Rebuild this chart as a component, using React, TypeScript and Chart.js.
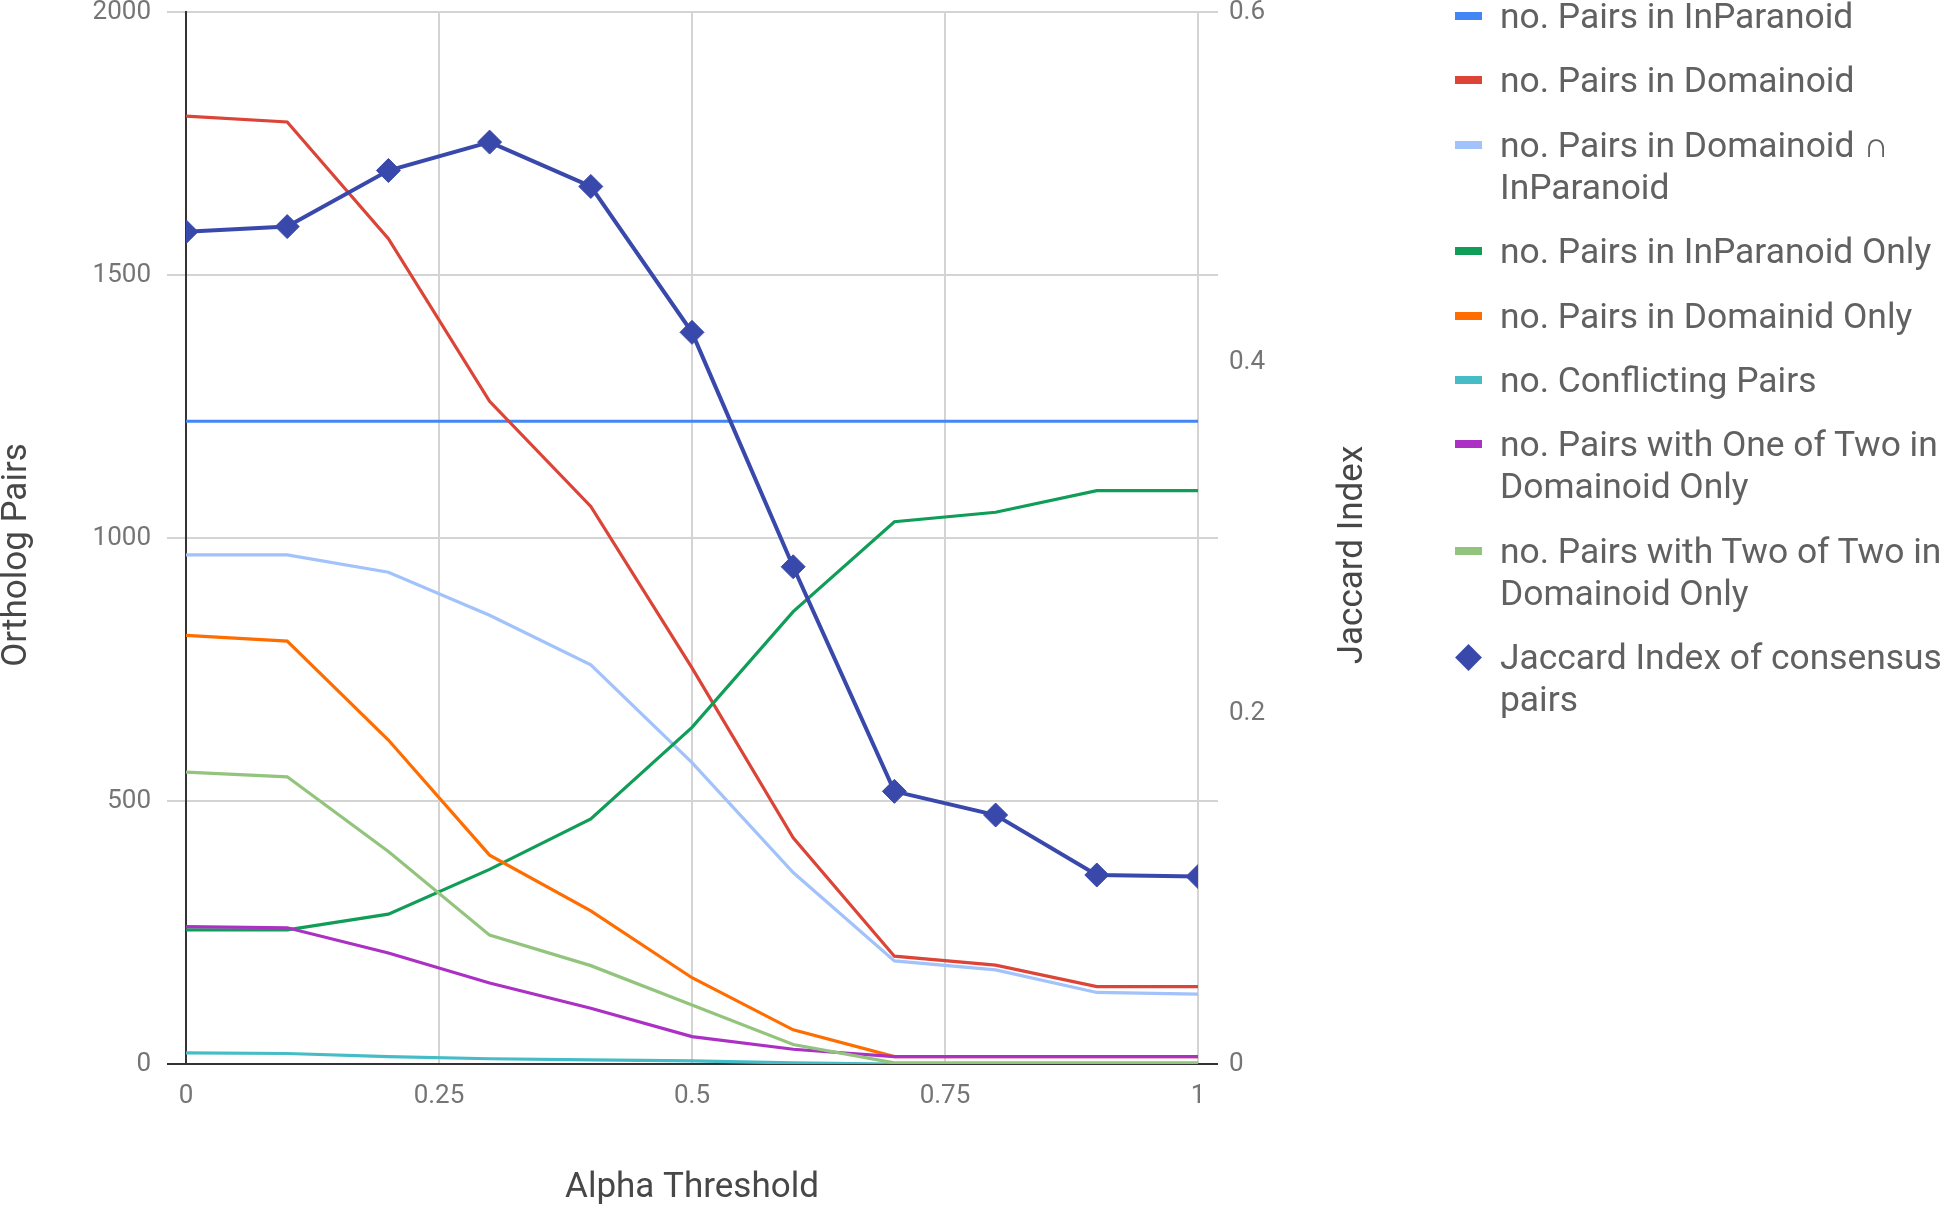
import React, { useEffect, useRef } from "react";
import { Chart, registerables } from "chart.js";

Chart.register(...registerables);

// ---------------- data ----------------
const alphaThresholds = [0, 0.1, 0.2, 0.3, 0.4, 0.5, 0.6, 0.7, 0.8, 0.9, 1.0];

const pairsInParanoid = [1222, 1222, 1222, 1222, 1222, 1222, 1222, 1222, 1222, 1222, 1222];
const pairsDomainoid = [1802, 1791, 1569, 1260, 1060, 753, 430, 205, 188, 147, 147];
const pairsIntersection = [968, 968, 935, 853, 759, 573, 364, 196, 179, 136, 133];
const pairsInParanoidOnly = [255, 255, 285, 370, 466, 640, 860, 1031, 1049, 1090, 1090];
const pairsDomainoidOnly = [815, 804, 616, 397, 291, 164, 65, 14, 14, 14, 14];
const conflictingPairs = [21, 20, 14, 10, 8, 6, 2, 0, 0, 0, 0];
const oneOfTwoPairs = [261, 259, 211, 154, 106, 52, 28, 14, 14, 14, 14];
const twoOfTwoPairs = [555, 546, 404, 245, 187, 112, 37, 2, 2, 2, 2];
const jaccardIndex = [0.4747, 0.4776, 0.5096, 0.5258, 0.5005, 0.4173, 0.2836, 0.1555, 0.142, 0.1078, 0.1069];

const legendLines: string[][] = [
  ["no. Pairs in InParanoid"],
  ["no. Pairs in Domainoid"],
  ["no. Pairs in Domainoid \u2229", "InParanoid"],
  ["no. Pairs in InParanoid Only"],
  ["no. Pairs in Domainid Only"],
  ["no. Conflicting Pairs"],
  ["no. Pairs with One of Two in", "Domainoid Only"],
  ["no. Pairs with Two of Two in", "Domainoid Only"],
  ["Jaccard Index of consensus", "pairs"],
];

const seriesColors = [
  "#4285F4",
  "#DB4437",
  "#A1C2FA",
  "#0F9D58",
  "#FF6D00",
  "#46BDC6",
  "#AB30C4",
  "#93C47D",
  "#3949AB",
];

const leftTicks = [0, 500, 1000, 1500, 2000];
const rightTicks = [0, 0.2, 0.4, 0.6];
const xTicks = [0, 0.25, 0.5, 0.75, 1];

const xTitle = "Alpha Threshold";
const leftTitle = "Ortholog Pairs";
const rightTitle = "Jaccard Index";

// ---------------- styles ----------------
const W = 1946;
const H = 1206;
const FONT = "Roboto";
const GRID = "#d4d4d4";
const AXIS = "#333333";
const TICK_COLOR = "#757575";
const TITLE_COLOR = "#474747";
const LEGEND_COLOR = "#616161";

const seriesValues = [
  pairsInParanoid,
  pairsDomainoid,
  pairsIntersection,
  pairsInParanoidOnly,
  pairsDomainoidOnly,
  conflictingPairs,
  oneOfTwoPairs,
  twoOfTwoPairs,
  jaccardIndex,
];

const extrasPlugin = {
  id: "extras",
  beforeDatasetsDraw(chart: any) {
    const { ctx, chartArea, scales } = chart;
    const y = scales.y;
    ctx.save();
    y.ticks.forEach((t: any) => {
      const py = Math.round(y.getPixelForValue(t.value));
      ctx.strokeStyle = t.value === 0 ? AXIS : GRID;
      ctx.lineWidth = 2;
      ctx.beginPath();
      ctx.moveTo(chartArea.right, py);
      ctx.lineTo(chartArea.right + 20, py);
      ctx.stroke();
    });
    ctx.restore();
  },
  afterDraw(chart: any) {
    const { ctx, chartArea } = chart;
    const cy = (chartArea.top + chartArea.bottom) / 2 + 17;
    ctx.save();
    ctx.font = `35px ${FONT}`;
    ctx.fillStyle = TITLE_COLOR;
    ctx.textAlign = "center";
    ctx.textBaseline = "middle";
    const drawRot = (text: string, x: number, yy: number) => {
      ctx.save();
      ctx.translate(x, yy);
      ctx.rotate(-Math.PI / 2);
      ctx.fillText(text, 0, 0);
      ctx.restore();
    };
    drawRot(leftTitle, 17, cy);
    drawRot(rightTitle, chartArea.right + 155, cy);
    ctx.restore();
  },
};

export default function App() {
  const canvasRef = useRef<HTMLCanvasElement | null>(null);

  useEffect(() => {
    if (!canvasRef.current) return;
    const n = seriesValues.length;
    const datasets = seriesValues.map((vals, i) => {
      const isJ = i === n - 1;
      return {
        label: legendLines[i].join(" "),
        data: vals.map((v, k) => ({ x: alphaThresholds[k], y: v })),
        borderColor: seriesColors[i],
        backgroundColor: seriesColors[i],
        borderWidth: isJ ? 4 : 3.2,
        pointRadius: isJ ? 12 : 0,
        pointHoverRadius: isJ ? 12 : 0,
        pointStyle: isJ ? "rectRot" : "circle",
        pointBorderWidth: 1,
        tension: 0,
        fill: false,
        yAxisID: isJ ? "y1" : "y",
        order: n - i,
      };
    });

    const chart = new Chart(canvasRef.current, {
      type: "line",
      data: { datasets } as any,
      plugins: [extrasPlugin],
      options: {
        responsive: false,
        animation: false,
        devicePixelRatio: 1,
        layout: {
          autoPadding: false,
          padding: { top: 12, left: 0, right: W - 1198 - 100, bottom: 0 },
        },
        plugins: {
          legend: { display: false },
          tooltip: { enabled: false },
        },
        scales: {
          x: {
            type: "linear",
            min: 0,
            max: 1,
            afterBuildTicks: (scale: any) => {
              scale.ticks = xTicks.map((v) => ({ value: v }));
            },
            ticks: {
              callback: (v: any) => String(Math.round(Number(v) * 100) / 100),
              font: { family: FONT, size: 26 },
              color: TICK_COLOR,
              padding: 17,
              maxRotation: 0,
            },
            grid: {
              color: (c: any) => (c.tick && c.tick.value === 0 ? AXIS : GRID),
              lineWidth: 2,
              drawTicks: false,
            },
            border: { display: true, color: AXIS, width: 2 },
            title: {
              display: true,
              text: xTitle,
              font: { family: FONT, size: 35, lineHeight: 1 },
              color: TITLE_COLOR,
              padding: { top: 0, bottom: 0 },
            },
            afterFit: (scale: any) => {
              scale.height = H - 1064;
              scale.paddingLeft = 0;
              scale.paddingRight = 0;
            },
          } as any,
          y: {
            type: "linear",
            position: "left",
            min: 0,
            max: 2000,
            afterBuildTicks: (scale: any) => {
              scale.ticks = leftTicks.map((v) => ({ value: v }));
            },
            ticks: {
              callback: (v: any) => String(v),
              font: { family: FONT, size: 26 },
              color: TICK_COLOR,
              padding: 16,
            },
            grid: {
              color: (c: any) => (c.tick && c.tick.value === 0 ? AXIS : GRID),
              lineWidth: 2,
              drawTicks: true,
              tickLength: 19,
            },
            border: { display: true, color: AXIS, width: 2 },
            afterFit: (scale: any) => {
              scale.width = 186;
              scale.paddingTop = 0;
              scale.paddingBottom = 0;
            },
          } as any,
          y1: {
            type: "linear",
            position: "right",
            min: 0,
            max: 0.6,
            afterBuildTicks: (scale: any) => {
              scale.ticks = rightTicks.map((v) => ({ value: v }));
            },
            ticks: {
              callback: (v: any) => String(Math.round(Number(v) * 10) / 10),
              font: { family: FONT, size: 26 },
              color: TICK_COLOR,
              padding: 31,
            },
            grid: { display: false, drawTicks: false, drawOnChartArea: false },
            border: { display: false },
            afterFit: (scale: any) => {
              scale.width = 100;
              scale.paddingTop = 0;
              scale.paddingBottom = 0;
            },
          } as any,
        },
      } as any,
    });
    return () => chart.destroy();
  }, []);

  let top = -5;
  const items = legendLines.map((lines, i) => {
    const itemTop = top;
    top += lines.length * 42 + 22.4;
    const isJ = i === legendLines.length - 1;
    return (
      <div
        key={i}
        style={{ position: "absolute", left: 1455, top: itemTop, width: 491 }}
      >
        {isJ ? (
          <div
            style={{
              position: "absolute",
              left: 4,
              top: 21 - 9.5,
              width: 19,
              height: 19,
              background: seriesColors[i],
              transform: "rotate(45deg)",
            }}
          />
        ) : (
          <div
            style={{
              position: "absolute",
              left: 0,
              top: 17,
              width: 27,
              height: 8,
              background: seriesColors[i],
            }}
          />
        )}
        <div
          style={{
            position: "absolute",
            left: 45,
            top: 0,
            whiteSpace: "nowrap",
            font: `35.4px ${FONT}`,
            lineHeight: "42px",
            color: LEGEND_COLOR,
          }}
        >
          {lines.map((l, k) => (
            <div key={k}>{l}</div>
          ))}
        </div>
      </div>
    );
  });

  return (
    <div
      style={{
        position: "absolute",
        left: 0,
        top: 0,
        width: W,
        height: H,
        overflow: "hidden",
        background: "#ffffff",
      }}
    >
      <canvas
        ref={canvasRef}
        width={W}
        height={H}
        style={{ position: "absolute", left: 0, top: 0, width: W, height: H }}
      />
      {items}
    </div>
  );
}
